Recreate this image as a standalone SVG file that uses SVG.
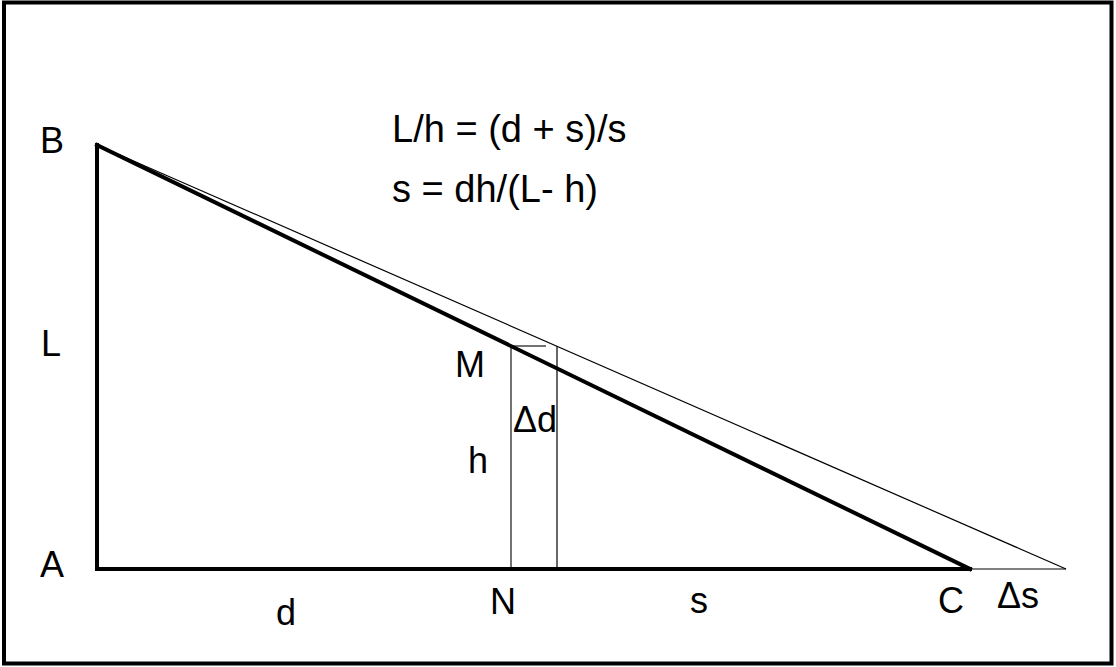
<svg xmlns="http://www.w3.org/2000/svg" width="1116" height="667" viewBox="0 0 1116 667">
<style>
.t{font-family:"Liberation Sans",Arial,sans-serif;font-size:36px;fill:#000}
.f{font-size:38px}
.thick{stroke:#000;stroke-width:4;fill:none;stroke-linecap:square}
.thin{stroke:#000;stroke-width:1.2;fill:none}
.grey{stroke:#444;stroke-width:1.5;fill:none}
</style>
<rect x="4" y="2.5" width="1107.5" height="661" fill="#fff" stroke="#000" stroke-width="4"/>
<g id="connectors">
<line class="thin" x1="97" y1="145" x2="1066" y2="569"/>
<line class="thin" x1="970" y1="569" x2="1066" y2="569"/>
<line class="grey" x1="511" y1="346" x2="511" y2="569"/>
<line class="grey" x1="511" y1="346" x2="546" y2="346"/>
<line class="thin" x1="557" y1="346" x2="557" y2="569"/>
<polyline class="thick" points="97,145 97,569 970,569"/>
<line class="thick" x1="97" y1="145" x2="970" y2="569"/>
</g>
<g id="formulas">
<text class="t f" x="392" y="142">L/h = (d + s)/s</text>
<text class="t f" x="392" y="202">s = dh/(L- h)</text>
</g>
<g id="labels">
<text class="t" x="40" y="153">B</text>
<text class="t" x="41" y="356">L</text>
<text class="t" x="40" y="577">A</text>
<text class="t" x="455" y="377">M</text>
<text class="t" x="513" y="432">Δd</text>
<text class="t" x="468" y="473">h</text>
<text class="t" x="276" y="625">d</text>
<text class="t" x="490" y="614">N</text>
<text class="t" x="690" y="613">s</text>
<text class="t" x="938" y="613">C</text>
<text class="t" x="997" y="608">Δs</text>
</g>
</svg>
